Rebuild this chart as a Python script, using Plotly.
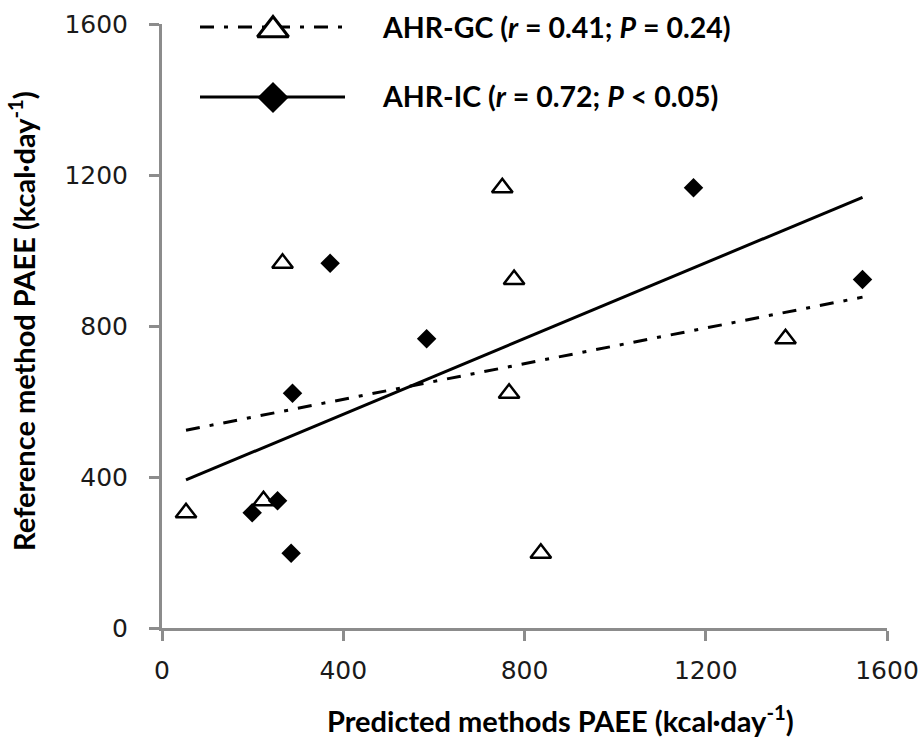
import numpy as np
import plotly.graph_objects as go

# Data
ref_paee = [198, 305, 337, 622, 766, 923, 966, 1166]          # reference method PAEE (y)
gc_pred = [836, 53, 224, 766, 1376, 777, 266, 751]            # AHR-GC predicted PAEE (x)
ic_pred = [285, 199, 255, 288, 584, 1546, 371, 1173]          # AHR-IC predicted PAEE (x)
tick_vals = [0, 400, 800, 1200, 1600]
gc_label = "<b>AHR-GC (<i>r</i> = 0.41; <i>P</i> = 0.24)</b>"
ic_label = "<b>AHR-IC (<i>r</i> = 0.72; <i>P</i> &lt; 0.05)</b>"

W, H = 924, 745
L, R, T, B = 162, 887, 24, 628  # plot area in pixels


def px(x):
    return (x - L) / (R - L)


def py(y):
    return (B - y) / (B - T)


# Linear trend lines over the combined x range
xmin = min(min(gc_pred), min(ic_pred))
xmax = max(max(gc_pred), max(ic_pred))
xs = np.array([xmin, xmax], dtype=float)
gc_fit = np.polyfit(gc_pred, ref_paee, 1)
ic_fit = np.polyfit(ic_pred, ref_paee, 1)

fig = go.Figure()
GC_DASH = "14px,10px,4px,10px"

fig.add_trace(go.Scatter(x=xs, y=np.polyval(gc_fit, xs), mode="lines",
                         line=dict(color="black", width=3, dash=GC_DASH),
                         showlegend=False, hoverinfo="skip"))
fig.add_trace(go.Scatter(x=xs, y=np.polyval(ic_fit, xs), mode="lines",
                         line=dict(color="black", width=3),
                         showlegend=False, hoverinfo="skip"))
fig.add_trace(go.Scatter(x=gc_pred, y=ref_paee, mode="markers", name="AHR-GC",
                         marker=dict(symbol="triangle-up-open", size=18, color="black",
                                     line=dict(width=2.5, color="black")),
                         showlegend=False, cliponaxis=False))
fig.add_trace(go.Scatter(x=ic_pred, y=ref_paee, mode="markers", name="AHR-IC",
                         marker=dict(symbol="diamond", size=15, color="black",
                                     line=dict(width=0)),
                         showlegend=False, cliponaxis=False))

# Hand-drawn legend on an overlay axis measured in pixels
leg_x = [200, 345]
fig.add_trace(go.Scatter(x=leg_x, y=[27, 27], mode="lines", xaxis="x2", yaxis="y2",
                         line=dict(color="black", width=3, dash=GC_DASH),
                         showlegend=False, hoverinfo="skip", cliponaxis=False))
fig.add_trace(go.Scatter(x=[273], y=[30], mode="markers", xaxis="x2", yaxis="y2",
                         marker=dict(symbol="triangle-up", size=27, color="white",
                                     line=dict(width=3, color="black")),
                         showlegend=False, hoverinfo="skip", cliponaxis=False))
fig.add_trace(go.Scatter(x=leg_x, y=[97, 97], mode="lines", xaxis="x2", yaxis="y2",
                         line=dict(color="black", width=3),
                         showlegend=False, hoverinfo="skip", cliponaxis=False))
fig.add_trace(go.Scatter(x=[273], y=[97.5], mode="markers", xaxis="x2", yaxis="y2",
                         marker=dict(symbol="diamond", size=24, color="black",
                                     line=dict(width=0)),
                         showlegend=False, hoverinfo="skip", cliponaxis=False))

axis_common = dict(
    range=[0, 1600], tickvals=tick_vals, showgrid=False, zeroline=False,
    showline=True, linecolor="#8c8c8c", linewidth=3,
    ticks="outside", ticklen=10, tickwidth=3, tickcolor="#8c8c8c",
    tickfont=dict(family="DejaVu Sans", size=25, color="#1a1a1a"),
    automargin=False,
)

fig.update_layout(
    width=W, height=H,
    margin=dict(l=L, r=W - R, t=T, b=H - B),
    paper_bgcolor="white", plot_bgcolor="white",
    showlegend=False,
    xaxis=dict(**axis_common, ticklabelstandoff=8),
    yaxis=dict(**axis_common, ticklabelstandoff=16),
    xaxis2=dict(range=[L, R], overlaying="x", anchor="y2", visible=False),
    yaxis2=dict(range=[B, T], overlaying="y", anchor="x2", visible=False),
    annotations=[
        dict(text=gc_label, x=px(380), y=py(27), xref="paper", yref="paper",
             xanchor="left", yanchor="middle", showarrow=False,
             font=dict(family="Lato", size=28.5, color="black")),
        dict(text=ic_label, x=px(380), y=py(96), xref="paper", yref="paper",
             xanchor="left", yanchor="middle", showarrow=False,
             font=dict(family="Lato", size=28.5, color="black")),
        dict(text="<b>Predicted methods PAEE (kcal·day<sup>-1</sup>)</b>",
             x=px(325), y=py(719), xref="paper", yref="paper",
             xanchor="left", yanchor="middle", showarrow=False,
             font=dict(family="Lato", size=29, color="black")),
        dict(text="<b>Reference method PAEE (kcal·day<sup>-1</sup>)</b>",
             x=px(22), y=py(321), xref="paper", yref="paper",
             xanchor="center", yanchor="middle", showarrow=False, textangle=-90,
             font=dict(family="Lato", size=29, color="black")),
    ],
)

fig.write_html("out.html", config={"displayModeBar": False},
               post_script="document.body.style.margin='0';")
